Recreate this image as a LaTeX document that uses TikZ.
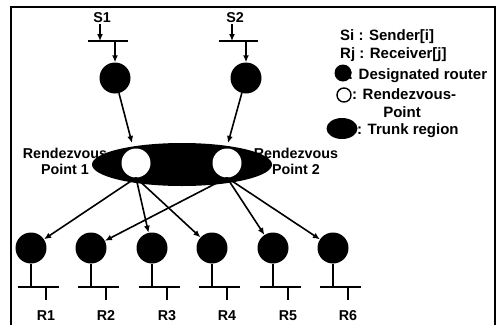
\documentclass[tikz,border=0pt]{standalone}
\usepackage{fontspec}
\setmainfont{Liberation Sans}
\usetikzlibrary{arrows.meta,shapes.geometric}
\begin{document}
\begin{tikzpicture}[x=1pt,y=-1pt,
  lbl/.style={font=\bfseries\fontsize{14.3}{16}\selectfont, inner sep=0pt},
  leg/.style={font=\bfseries\fontsize{15}{17}\selectfont, inner sep=0pt, anchor=base west},
  dr/.style={circle, fill=black, minimum size=31pt, inner sep=0pt},
  rp/.style={circle, fill=white, minimum size=29pt, inner sep=0pt},
  arr/.style={line width=1.6pt, -{Latex[length=7pt,width=6pt]}},
  ln/.style={line width=1.6pt}]
\useasboundingbox (0,0) rectangle (498,325);
\draw[line width=1.5pt] (11,325) -- (11,7) -- (495,7) -- (495,325);

% senders
\node[lbl, anchor=base] (s1) at (102,22) {S1};
\node[lbl, anchor=base] (s2) at (235,22) {S2};
\node[dr] (d1) at (115,78) {};
\node[dr] (d2) at (246,78) {};
\coordinate (b1l) at (88,41); \coordinate (b1r) at (128,41);
\coordinate (b2l) at (219,41); \coordinate (b2r) at (258,41);
\coordinate (b1s) at (100,41); \coordinate (b1d) at (115,41);
\coordinate (b2s) at (232,41); \coordinate (b2d) at (246,41);
\draw[ln] (b1l) -- (b1r);
\draw[ln] (b2l) -- (b2r);
\draw[arr] ([yshift=-2pt]s1.south -| b1s) -- (b1s);
\draw[arr] ([yshift=-2pt]s2.south -| b2s) -- (b2s);
\draw[arr] (b1d) -- (d1);
\draw[arr] (b2d) -- (d2);

% rendezvous labels (under the trunk)
\node[lbl, align=center] (t1) at (65,161) {Rendezvous\\Point 1};
\node[lbl, align=center] (t2) at (296,161) {Rendezvous\\Point 2};

% trunk and rendezvous points
\node[ellipse, fill=black, minimum width=180pt, minimum height=43pt, inner sep=0pt] (trunk) at (182,164.5) {};
\node[rp] (rp1) at (136,163) {};
\node[rp] (rp2) at (227,163) {};
\coordinate (e1) at (132,143);
\coordinate (e2) at (228,143);
\draw[arr] (d1) -- (e1);
\draw[arr] (d2) -- (e2);

% receivers
\foreach \i/\x in {1/31,2/91,3/152,4/212,5/273,6/333}{
  \node[dr] (r\i) at (\x,248) {};
  \coordinate (bl\i) at (\x-13,287);
  \coordinate (br\i) at (\x+28,287);
  \coordinate (bm\i) at (\x,287);
  \coordinate (bs\i) at (\x+15,287);
  \coordinate (be\i) at (\x+15,300);
  \draw[ln] (bl\i) -- (br\i);
  \draw[ln] (r\i) -- (bm\i);
  \draw[ln] (bs\i) -- (be\i);
  \node[lbl, anchor=base] (lr\i) at (\x+15,320) {R\i};
}
\draw[arr] (rp1.south) -- (r1);
\draw[arr] (rp1.south) -- (r3);
\draw[arr] (rp1.south) -- (r4);
\draw[arr] (rp2.south) -- (r2);
\draw[arr] (rp2.south) -- (r5);
\draw[arr] (rp2.south) -- (r6);

% legend
\node[leg] (l1) at (340,40) {Si : Sender[i]};
\node[leg] (l2) at (340,58) {Rj : Receiver[j]};
\node[circle, fill=black, minimum size=17pt, inner sep=0pt] (ldr) at (343,73) {};
\node[leg] (l3) at (348,79) {: Designated router};
\node[circle, draw=black, line width=1.4pt, fill=white, minimum size=14pt, inner sep=0pt] (lrp) at (344,95) {};
\node[leg] (l4) at (352,99.5) {: Rendezvous-};
\node[leg, anchor=base] (l5) at (402,117) {Point};
\node[ellipse, fill=black, minimum width=31pt, minimum height=21pt, inner sep=0pt] (ltr) at (342,128.5) {};
\node[leg] (l6) at (357,134) {: Trunk region};
\end{tikzpicture}
\end{document}
